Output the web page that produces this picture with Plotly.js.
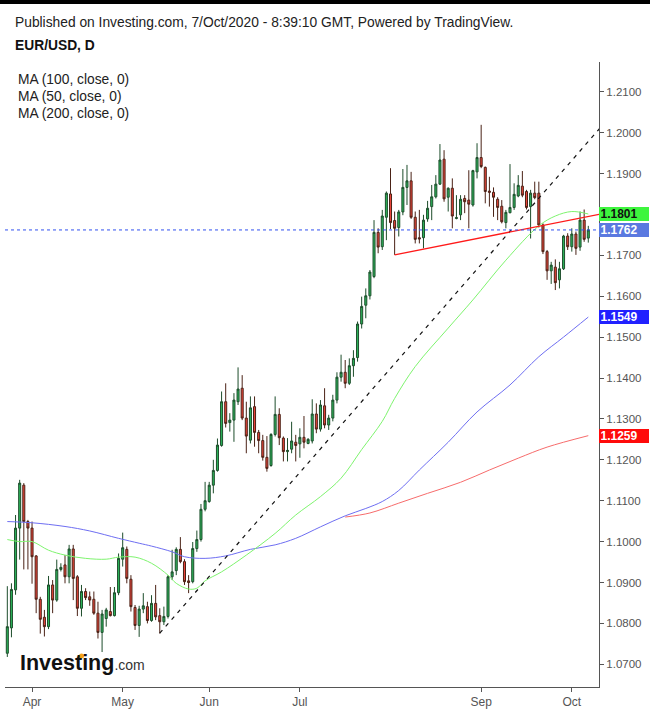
<!DOCTYPE html>
<html>
<head>
<meta charset="utf-8">
<script src="https://cdn.plot.ly/plotly-3.0.1.min.js"></script>
<style>
html,body{margin:0;padding:0;background:#fff;}
#wrap{position:relative;width:650px;height:709px;}
#chart{width:650px;height:709px;}
#topbar{position:absolute;left:0;top:0;width:650px;height:4px;background:#000;}
</style>
</head>
<body>
<div id="wrap"><div id="chart"></div><div id="topbar"></div></div>
<script>
// ---------- DATA ----------
const firstDay = '2020-03-24';
const lastDay = '2020-10-07';

const opens = [
1.0727,1.0789,1.0882,1.1033,1.1138,1.1049,
1.1033,1.0965,1.0859,1.0815,1.0792,1.0894,1.0857,1.0932,1.0943,1.0914,1.0982,1.0914,1.0837,1.0878,1.0865,1.0859,1.0825,1.0778,1.0812,1.0829,1.0819,1.0875,
1.0957,1.0981,1.0908,1.0839,1.0795,1.0835,1.0841,1.0807,1.0849,1.0819,1.0804,1.0817,1.0914,1.0929,1.0981,1.0951,1.0904,1.0902,1.0983,1.1005,1.1079,
1.1098,1.1138,1.1174,1.1235,1.1342,1.1291,1.1297,1.1342,1.1375,1.1302,1.1248,1.1330,1.1267,1.1247,1.1206,1.1186,1.1262,1.1311,1.1253,1.1220,1.1226,1.1243,
1.1239,1.1255,1.1240,1.1246,1.1312,1.1275,1.1332,1.1285,1.1302,1.1346,1.1402,1.1414,1.1387,1.1430,1.1450,1.1532,1.1578,1.1601,1.1648,1.1756,1.1721,1.1793,1.1850,
1.1785,1.1768,1.1806,1.1866,1.1882,1.1793,1.1743,1.1743,1.1789,1.1819,1.1843,1.1874,1.1935,1.1842,1.1864,1.1790,1.1799,1.1839,1.1835,1.1823,1.1904,
1.1939,1.1915,1.1857,1.1854,1.1837,1.1820,1.1780,1.1804,1.1817,1.1845,1.1869,1.1856,1.1819,1.1852,1.1852,1.1774,1.1709,1.1662,1.1671,1.1640,1.1667,1.1747,
1.1721,1.1752,1.1720,1.1786,1.1742];
const highs = [
1.0891,1.0898,1.1065,1.1151,1.1143,1.1053,
1.1049,1.0967,1.0865,1.0833,1.0916,1.0906,1.0956,1.0947,1.0967,1.0992,1.0992,1.0918,1.0894,1.0886,1.0878,1.0878,1.0853,1.0833,1.0838,1.0889,1.0889,1.0971,
1.1022,1.0988,1.0918,1.0845,1.0843,1.0874,1.0853,1.0869,1.0894,1.0837,1.0841,1.0918,1.0980,1.0986,1.1011,1.0957,1.0918,1.0999,1.1027,1.1092,1.1146,
1.1146,1.1200,1.1252,1.1367,1.1387,1.1314,1.1363,1.1426,1.1407,1.1342,1.1355,1.1355,1.1273,1.1261,1.1258,1.1265,1.1355,1.1326,1.1257,1.1253,1.1293,1.1261,
1.1277,1.1307,1.1253,1.1348,1.1338,1.1346,1.1375,1.1310,1.1359,1.1414,1.1457,1.1444,1.1448,1.1468,1.1538,1.1599,1.1619,1.1664,1.1786,1.1766,1.1811,1.1856,1.1913,
1.1807,1.1811,1.1911,1.1921,1.1904,1.1807,1.1811,1.1799,1.1833,1.1872,1.1896,1.1972,1.1957,1.1866,1.1888,1.1847,1.1847,1.1847,1.1908,1.1909,1.1974,
1.2019,1.1917,1.1892,1.1866,1.1842,1.1835,1.1811,1.1923,1.1876,1.1896,1.1906,1.1860,1.1860,1.1880,1.1880,1.1778,1.1713,1.1684,1.1690,1.1684,1.1750,1.1754,
1.1766,1.1758,1.1807,1.1812,1.1772];
const lows = [
1.0718,1.0766,1.0870,1.0956,1.0932,1.0932,
1.0897,1.0825,1.0775,1.0768,1.0786,1.0825,1.0853,1.0927,1.0898,1.0898,1.0857,1.0818,1.0817,1.0857,1.0843,1.0821,1.0763,1.0730,1.0792,1.0817,1.0817,1.0869,
1.0939,1.0898,1.0829,1.0784,1.0767,1.0825,1.0800,1.0804,1.0808,1.0775,1.0796,1.0812,1.0906,1.0918,1.0947,1.0894,1.0874,1.0898,1.0975,1.1000,1.1074,
1.1095,1.1118,1.1171,1.1232,1.1279,1.1269,1.1244,1.1334,1.1297,1.1216,1.1240,1.1232,1.1216,1.1198,1.1171,1.1183,1.1257,1.1236,1.1196,1.1196,1.1216,1.1196,
1.1205,1.1228,1.1238,1.1240,1.1265,1.1269,1.1277,1.1273,1.1294,1.1338,1.1391,1.1375,1.1383,1.1403,1.1440,1.1521,1.1546,1.1592,1.1644,1.1705,1.1713,1.1737,1.1764,
1.1701,1.1746,1.1798,1.1823,1.1789,1.1729,1.1729,1.1717,1.1782,1.1786,1.1839,1.1872,1.1831,1.1807,1.1766,1.1788,1.1786,1.1803,1.1766,1.1819,1.1888,
1.1913,1.1827,1.1819,1.1794,1.1786,1.1778,1.1766,1.1803,1.1811,1.1842,1.1842,1.1812,1.1741,1.1837,1.1768,1.1703,1.1640,1.1630,1.1615,1.1619,1.1664,1.1713,
1.1709,1.1701,1.1711,1.1733,1.1731];
const closes = [
1.0792,1.0883,1.1033,1.1143,1.1049,1.1033,
1.0963,1.0859,1.0810,1.0792,1.0894,1.0857,1.0932,1.0937,1.0914,1.0982,1.0910,1.0837,1.0878,1.0863,1.0857,1.0825,1.0778,1.0823,1.0833,1.0819,1.0875,1.0959,
1.0985,1.0910,1.0841,1.0795,1.0835,1.0843,1.0807,1.0849,1.0816,1.0804,1.0817,1.0914,1.0926,1.0981,1.0951,1.0902,1.0900,1.0983,1.1005,1.1079,1.1100,
1.1138,1.1174,1.1236,1.1342,1.1289,1.1297,1.1346,1.1373,1.1302,1.1258,1.1327,1.1267,1.1247,1.1206,1.1179,1.1262,1.1311,1.1254,1.1220,1.1223,1.1246,1.1235,
1.1255,1.1243,1.1250,1.1312,1.1275,1.1334,1.1285,1.1302,1.1346,1.1402,1.1414,1.1387,1.1430,1.1448,1.1532,1.1575,1.1601,1.1659,1.1756,1.1720,1.1796,1.1852,1.1780,
1.1766,1.1806,1.1866,1.1882,1.1793,1.1739,1.1740,1.1786,1.1815,1.1843,1.1874,1.1933,1.1838,1.1864,1.1796,1.1792,1.1837,1.1831,1.1825,1.1907,1.1939,
1.1917,1.1856,1.1854,1.1842,1.1817,1.1782,1.1805,1.1817,1.1849,1.1871,1.1847,1.1817,1.1852,1.1841,1.1774,1.1709,1.1662,1.1676,1.1633,1.1667,1.1747,1.1721,
1.1752,1.1717,1.1786,1.1739,1.1762];

// moving averages, sampled at bar numbers (1 = first bar)
const ma50Bars = [1,4,7,11,15,20,25,28,32,36,40,42,45,47,49,53,59,66,71,77,82,87,92,95,100,108,114,122,130,134,138,142];
const ma50 = [1.1005,1.1000,1.1000,1.0979,1.0967,1.0959,1.0957,1.0962,1.0962,1.0947,1.0918,1.0898,1.0884,1.0886,1.0904,1.0926,1.0967,1.1020,1.1065,1.1110,1.1155,1.1225,1.1294,1.1350,1.1428,1.1522,1.1591,1.1688,1.1772,1.1796,1.1807,1.1801];
const ma100Bars = [1,7,15,21,28,33,36,41,44,49,54,60,66,71,77,83,88,92,96,101,108,115,123,130,136,142];
const ma100 = [1.1049,1.1046,1.1037,1.1026,1.1008,1.0996,1.0989,1.0975,1.0963,1.0959,1.0965,1.0981,1.0992,1.1008,1.1036,1.1063,1.1081,1.1098,1.1125,1.1175,1.1243,1.1317,1.1383,1.1452,1.1500,1.1549];
const ma200Bars = [83,89,96,103,111,118,125,132,142];
const ma200 = [1.1060,1.1070,1.1094,1.1118,1.1145,1.1175,1.1204,1.1231,1.1259];

// hand-drawn lines: [date, price]
const trendDates = ['2020-05-14','2020-10-12'];
const trendPrices = [1.0776,1.2036];
const supportDates = ['2020-08-03','2020-10-12'];
const supportPrices = [1.1701,1.1805];

const yTicks = [1.07,1.08,1.09,1.10,1.11,1.12,1.13,1.14,1.15,1.16,1.17,1.18,1.19,1.20,1.21];
const hiddenTick = 1.18; // covered by the MA(50) value box in the original
const monthTicks = ['2020-04-01','2020-05-01','2020-06-01','2020-07-01','2020-08-01','2020-09-01','2020-10-01'];
const monthLabels = ['Apr','May','Jun','Jul','Aug','Sep','Oct'];

// trading days (weekdays) between first and last day
const dates = [];
(function(){
  const d = new Date(firstDay + 'T00:00:00Z');
  const end = new Date(lastDay + 'T00:00:00Z');
  while (d <= end) {
    const wd = d.getUTCDay();
    if (wd !== 0 && wd !== 6) dates.push(d.toISOString().slice(0,10));
    d.setUTCDate(d.getUTCDate() + 1);
  }
})();

// ---------- CHART ----------
const W = 650, H = 709, L = 5, R = 51, T = 62, B = 22;
const pw = W - L - R, ph = H - T - B;
const px = x => (x - L) / pw;
const py = y => (H - B - y) / ph;

const traces = [
  {type:'scatter', mode:'lines', x: ma100Bars.map(i=>dates[i-1]), y: ma100, line:{color:'#6e6ef2', width:1, shape:'spline'}, hoverinfo:'skip'},
  {type:'scatter', mode:'lines', x: ma50Bars.map(i=>dates[i-1]), y: ma50, line:{color:'#7ef46e', width:1, shape:'spline'}, hoverinfo:'skip'},
  {type:'scatter', mode:'lines', x: ma200Bars.map(i=>dates[i-1]), y: ma200, line:{color:'#f76c6c', width:1, shape:'spline'}, hoverinfo:'skip'},
  {type:'scatter', mode:'lines', x: trendDates, y: trendPrices, line:{color:'#111', width:1.2, dash:'4px,5px'}, hoverinfo:'skip'},
  {type:'scatter', mode:'lines', x: supportDates, y: supportPrices, line:{color:'#ff1a1a', width:1.3}, hoverinfo:'skip'},
  {type:'candlestick', x: dates, open: opens, high: highs, low: lows, close: closes,
   increasing:{line:{color:'#1d4d2b', width:1}, fillcolor:'#2cb45a'},
   decreasing:{line:{color:'#4a2216', width:1}, fillcolor:'#e9443a'},
   whiskerwidth:0, hoverinfo:'skip'}
];

const lastClose = closes[closes.length-1];
const boxes = [
  {v: ma50[ma50.length-1], bg:'#3ef53e', fc:'#111'},
  {v: lastClose, bg:'#5a79e0', fc:'#fff'},
  {v: ma100[ma100.length-1], bg:'#2121ff', fc:'#fff'},
  {v: ma200[ma200.length-1], bg:'#ff0a0a', fc:'#fff'}
];

const hdr = 13.8;
const annotations = [
  {xref:'paper', yref:'paper', x:px(13), y:py(23), xanchor:'left', yanchor:'middle', showarrow:false,
   text:'Published on Investing.com, 7/Oct/2020 - 8:39:10 GMT, Powered by TradingView.', font:{size:hdr, color:'#222'}},
  {xref:'paper', yref:'paper', x:px(13), y:py(46), xanchor:'left', yanchor:'middle', showarrow:false,
   text:'<b>EUR/USD, D</b>', font:{size:hdr, color:'#111'}},
  {xref:'paper', yref:'paper', x:px(16), y:py(79), xanchor:'left', yanchor:'middle', showarrow:false,
   text:'MA (100, close, 0)', font:{size:hdr, color:'#222'}},
  {xref:'paper', yref:'paper', x:px(16), y:py(96), xanchor:'left', yanchor:'middle', showarrow:false,
   text:'MA (50, close, 0)', font:{size:hdr, color:'#222'}},
  {xref:'paper', yref:'paper', x:px(16), y:py(113), xanchor:'left', yanchor:'middle', showarrow:false,
   text:'MA (200, close, 0)', font:{size:hdr, color:'#222'}},
  {xref:'paper', yref:'paper', x:px(18), y:py(663), xanchor:'left', yanchor:'middle', showarrow:false,
   text:'<b>Investing</b><span style="font-size:14px;color:#333">.com</span>', font:{size:21.5, color:'#111', family:'Liberation Sans, Arial'}}
];
boxes.forEach(b => annotations.push({
  xref:'paper', yref:'y', x:1, y:b.v, xanchor:'left', yanchor:'middle', showarrow:false,
  text:'<b>' + b.v.toFixed(4) + '</b>', font:{size:12, color:b.fc}, bgcolor:b.bg,
  width:47, height:11, borderpad:1.5, borderwidth:0, align:'left'
}));

const layout = {
  width: W, height: H,
  margin: {l:L, r:R, t:T, b:B, pad:0},
  paper_bgcolor:'#fff', plot_bgcolor:'#fff',
  showlegend:false,
  font:{family:'Liberation Sans, Arial, sans-serif', color:'#555'},
  xaxis:{
    type:'date',
    range:['2020-03-23 10:30','2020-10-09 14:24'],
    rangebreaks:[{bounds:['sat','mon']}],
    rangeslider:{visible:false},
    tickmode:'array', tickvals: monthTicks, ticktext: monthLabels,
    ticks:'outside', ticklen:4, tickcolor:'#555',
    showline:true, linecolor:'#555', linewidth:1,
    showgrid:false, zeroline:false,
    tickfont:{size:12, color:'#555'}, fixedrange:true
  },
  yaxis:{
    side:'right',
    range:[1.06445, 1.21726],
    tickmode:'array', tickvals: yTicks,
    ticktext: yTicks.map(v => Math.abs(v - hiddenTick) < 1e-9 ? '' : v.toFixed(4)),
    ticks:'outside', ticklen:4, tickcolor:'#555',
    showline:true, linecolor:'#555', linewidth:1,
    showgrid:false, zeroline:false,
    tickfont:{size:11.5, color:'#555'}, fixedrange:true
  },
  shapes:[
    {type:'line', xref:'paper', yref:'y', x0:0, x1:1, y0:lastClose, y1:lastClose,
     line:{color:'#3050f0', width:1, dash:'dot'}, layer:'above'},
    {type:'circle', xref:'paper', yref:'paper', x0:px(79), x1:px(84), y0:py(658.5), y1:py(653.5),
     fillcolor:'#f7a21b', line:{width:0}}
  ],
  annotations: annotations
};

Plotly.newPlot('chart', traces, layout, {displayModeBar:false, staticPlot:true});
</script>
</body>
</html>
